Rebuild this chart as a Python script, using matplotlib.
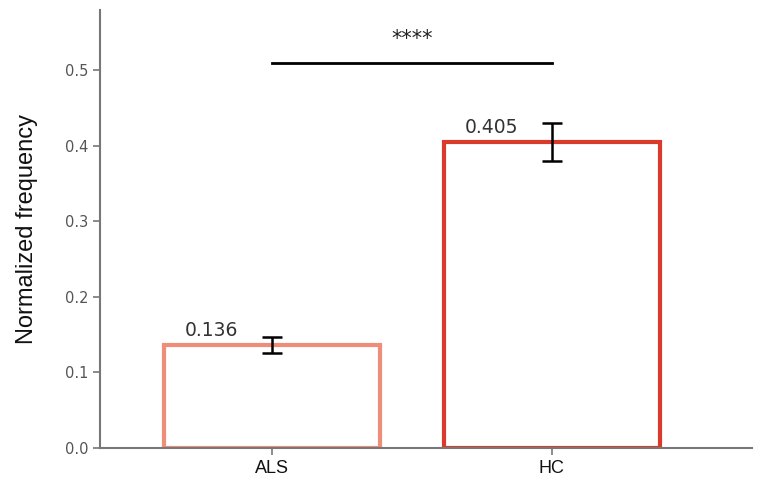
import matplotlib.pyplot as plt

groups = ["ALS", "HC"]
values = [0.136, 0.405]
errors = [0.011, 0.025]
edge_colors = ["#EE8E7A", "#D93A2C"]
value_labels = ["0.136", "0.405"]
sig_text = "****"
sig_y = 0.51

fig = plt.figure(figsize=(7.75, 4.96), dpi=100)
ax = fig.add_axes([0.129, 0.097, 0.841, 0.883])

x = list(range(len(groups)))
ax.bar(x, values, width=0.77, color="white", edgecolor=edge_colors, linewidth=3)
ax.errorbar(x, values, yerr=errors, fmt="none", ecolor="black",
            elinewidth=1.8, capsize=7, capthick=1.8)

for xi, v, lab in zip(x, values, value_labels):
    ax.text(xi - 0.215, v + 0.007, lab, ha="center", va="bottom",
            fontsize=13.5, color="#333333")

ax.plot([x[0], x[1]], [sig_y, sig_y], color="black", linewidth=2)
ax.text((x[0] + x[1]) / 2, sig_y + 0.018, sig_text, ha="center", va="bottom",
        fontsize=15, color="#222222")

ax.set_xlim(-0.614, 1.714)
ax.set_ylim(0, 0.58)
ax.set_yticks([0.0, 0.1, 0.2, 0.3, 0.4, 0.5])
ax.set_xticks(x)
ax.set_xticklabels(groups, fontsize=13, family="Liberation Sans")
ax.set_ylabel("Normalized frequency", fontsize=17, family="Liberation Sans",
              labelpad=19, color="#111111")

for side in ["top", "right"]:
    ax.spines[side].set_visible(False)
for side in ["left", "bottom"]:
    ax.spines[side].set_color("#777777")
    ax.spines[side].set_linewidth(1.5)
ax.tick_params(colors="#777777", width=1.2, length=5)
ax.tick_params(axis="y", labelcolor="#555555", labelsize=10.5)
ax.tick_params(axis="x", labelcolor="#111111")

fig.savefig("out.png", dpi=100)
